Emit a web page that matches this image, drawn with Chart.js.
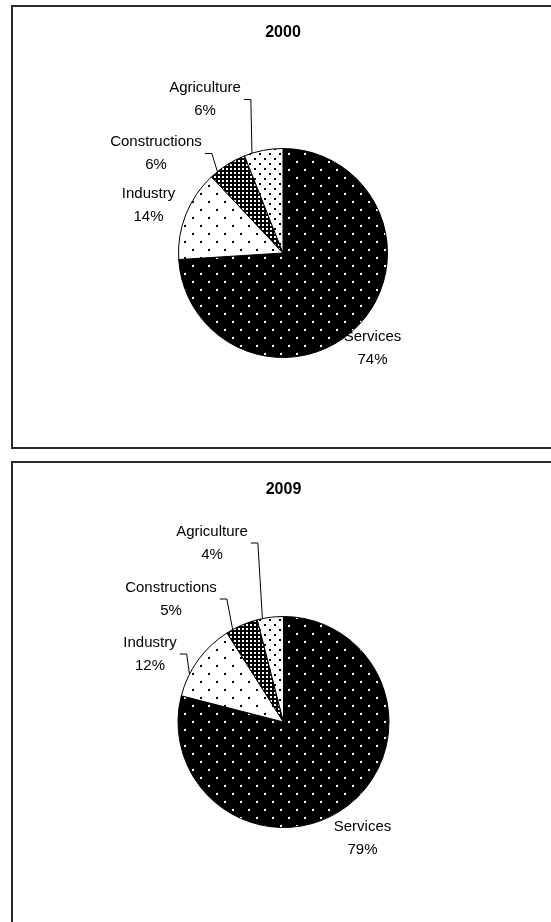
<!DOCTYPE html>
<html>
<head>
<meta charset="utf-8">
<script src="https://cdn.jsdelivr.net/npm/chart.js@4/dist/chart.umd.min.js"></script>
<style>
    html, body { margin: 0; padding: 0; background: #fff; overflow: hidden; }
    body { width: 551px; height: 922px; position: relative; }
    .panel { position: absolute; left: 11px; width: 620px; border: 2px solid #2a2a2a; box-sizing: border-box; }
    #panel1 { top: 5px; height: 444px; }
    #panel2 { top: 461px; height: 520px; }
    .wrap { position: absolute; left: 13px; width: 538px; }
    #wrap1 { top: 7px; height: 440px; }
    #wrap2 { top: 463px; height: 459px; }
</style>
</head>
<body>
<div class="panel" id="panel1"></div>
<div class="panel" id="panel2"></div>
<div class="wrap" id="wrap1"><canvas id="chart2000"></canvas></div>
<div class="wrap" id="wrap2"><canvas id="chart2009"></canvas></div>
<script>
// data (% of employment by sector)
const categories = ['Services', 'Industry', 'Constructions', 'Agriculture'];
const years = ['2000', '2009'];
const shares2000 = [74, 14, 6, 6];
const shares2009 = [79, 12, 5, 4];

const FONT = '"Liberation Sans", Arial, sans-serif';

// label block centres relative to the pie centre, per slice (Excel put them by hand)
const labelOffsets2000 = [[89.5, 95.5], [-134.5, -47.5], [-127, -99.5], [-78, -153.5]];
const labelOffsets2009 = [[79, 116.5], [-133.5, -68], [-112.5, -123], [-71.5, -179]];

// small tiles used as fill patterns, like the old b/w office charts
function dotPattern(bg, fg, size, dot, spots) {
    const c = document.createElement('canvas');
    c.width = size;
    c.height = size;
    const g = c.getContext('2d');
    g.fillStyle = bg;
    g.fillRect(0, 0, size, size);
    g.fillStyle = fg;
    spots.forEach(s => g.fillRect(s[0], s[1], dot, dot));
    return g.createPattern(c, 'repeat');
}

const fills = [
    dotPattern('#000', '#fff', 16, 2, [[3, 2], [11, 10]]),   // Services
    dotPattern('#fff', '#000', 16, 2, [[3, 2], [11, 10]]),   // Industry
    dotPattern('#000', '#fff', 4, 2, [[1, 1]]),              // Constructions
    dotPattern('#fff', '#000', 10, 2, [[1, 1], [6, 6]])      // Agriculture
];

// draws the two-line labels and the little leader lines
const pieLabels = {
    id: 'pieLabels',
    afterDatasetsDraw(chart, args, opts) {
        const ctx = chart.ctx;
        const meta = chart.getDatasetMeta(0);
        const values = chart.data.datasets[0].data;
        ctx.save();
        ctx.font = '15px ' + FONT;
        ctx.fillStyle = '#000';
        ctx.strokeStyle = '#000';
        ctx.lineWidth = 1;
        ctx.textAlign = 'center';
        ctx.textBaseline = 'middle';
        meta.data.forEach((arc, i) => {
            const p = arc.getProps(['x', 'y', 'startAngle', 'endAngle', 'outerRadius'], true);
            const cx = p.x + opts.offsets[i][0];
            const cy = p.y + opts.offsets[i][1];
            const line1 = chart.data.labels[i];
            const line2 = values[i] + '%';
            ctx.fillText(line1, cx, cy - 11.5);
            ctx.fillText(line2, cx, cy + 11.5);

            // point on the rim the leader goes to
            const span = p.endAngle - p.startAngle;
            const mid = p.startAngle + span / 2;
            let a = Math.atan2(cy - p.y, cx - p.x);
            while (a - mid > Math.PI) a -= 2 * Math.PI;
            while (a - mid < -Math.PI) a += 2 * Math.PI;
            a = Math.min(Math.max(a, p.startAngle + 0.2 * span), p.endAngle - 0.2 * span);
            const ex = p.x + Math.cos(a) * p.outerRadius;
            const ey = p.y + Math.sin(a) * p.outerRadius;

            // only when the label sits away from its slice
            const halfW = Math.max(ctx.measureText(line1).width, ctx.measureText(line2).width) / 2;
            const gx = Math.max(Math.abs(ex - cx) - halfW, 0);
            const gy = Math.max(Math.abs(ey - cy) - 20, 0);
            if (Math.hypot(gx, gy) > 10) {
                const side = ex > cx ? 1 : -1;
                const sx = cx + side * (halfW + 3);
                ctx.beginPath();
                ctx.moveTo(sx, cy);
                ctx.lineTo(sx + side * 7, cy);
                ctx.lineTo(ex, ey);
                ctx.stroke();
            }
        });
        ctx.restore();
    }
};

function makePie(canvasId, year, values, offsets, titlePad, pad) {
    return new Chart(document.getElementById(canvasId), {
        type: 'pie',
        data: {
            labels: categories,
            datasets: [{
                data: values,
                backgroundColor: fills,
                borderColor: '#000',
                borderWidth: 1
            }]
        },
        options: {
            responsive: true,
            maintainAspectRatio: false,
            animation: false,
            events: [],
            layout: { padding: pad },
            plugins: {
                legend: { display: false },
                tooltip: { enabled: false },
                title: {
                    display: true,
                    text: year,
                    color: '#000',
                    font: { family: FONT, size: 16, weight: 'bold' },
                    padding: titlePad
                },
                pieLabels: { offsets: offsets }
            }
        },
        plugins: [pieLabels]
    });
}

makePie('chart2000', years[0], shares2000, labelOffsets2000,
    { top: 16, bottom: 105.8 }, { top: 0, left: 165, right: 163, bottom: 89 });
makePie('chart2009', years[1], shares2009, labelOffsets2009,
    { top: 17, bottom: 116.8 }, { top: 0, left: 164.5, right: 161.5, bottom: 94 });
</script>
</body>
</html>
